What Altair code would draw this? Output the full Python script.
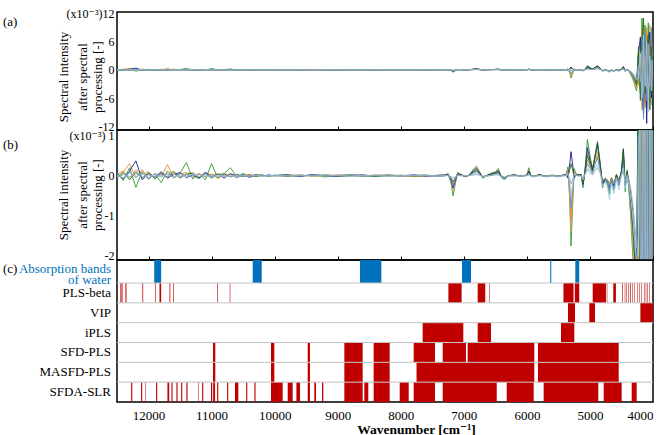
import altair as alt
import pandas as pd

FONT = "Liberation Serif, DejaVu Serif, Times New Roman, serif"

# ---------------- spectra: wavenumber grid (cm^-1) ----------------
WN_A = [12500, 12400, 12300, 12200, 12100, 12000, 11900, 11800, 11700, 11600, 11500, 11400, 11300,
        11200, 11100, 11000, 10900, 10800, 10700, 10600, 10500, 10400, 10300, 10200, 10100, 10000]
WN_B = [9800, 9600, 9400, 9200, 9000, 8800, 8600, 8400, 8200, 8000, 7800, 7600, 7400]
WN_C = [7300, 7250, 7200, 7170, 7140, 7100, 7050, 7000, 6950, 6900, 6850, 6800, 6750, 6700, 6600,
        6500, 6450, 6400, 6350, 6300, 6200, 6100, 6000, 5970, 5940, 5900, 5800, 5700, 5600, 5500, 5420]
WN_D = [5380, 5350, 5320, 5300, 5280, 5250, 5220, 5180, 5140, 5110, 5080, 5040, 5000, 4960, 4920,
        4880, 4840, 4800, 4760, 4720, 4690, 4660, 4620, 4580, 4540, 4500, 4470, 4440, 4410, 4380,
        4350, 4320, 4290, 4260]
WN_E = [4230, 4200, 4175, 4150, 4125, 4100, 4075, 4050, 4025, 4000]
WN = WN_A + WN_B + WN_C + WN_D + WN_E

# spectral intensity after processing (x10^-3), one list per spectrum
S_GREEN = [
    0.08, -0.12, 0.20, -0.29, 0.10, -0.05, 0.04, -0.17, 0.12, -0.04, 0.06, 0.33, -0.08, 0.05, -0.10, 0.30, -0.06, 0.05, 0.20, -0.04, 0.06, -0.03, 0.03, 0.02, -0.02, 0.01,
    0.03, -0.01, 0.02, -0.03, 0.01, 0.03, -0.02, 0.01, 0.02, -0.01, 0.01, 0.02, -0.02,
    0.00, 0.06, -0.20, -0.50, -0.24, 0.08, 0.04, -0.01, -0.03, 0.05, 0.16, 0.24, 0.10, -0.06, 0.04, 0.10, 0.18, -0.06, -0.10, -0.01, 0.03, -0.02, 0.01, 0.20, 0.02, -0.03, 0.02, -0.03, 0.00, -0.03, 0.01,
    0.02, 0.22, -0.60, -1.75, -0.95, 0.18, 0.05, 0.02, 0.03, -0.30, 0.12, 0.90, 0.50, 0.18, 0.45, 0.75, 0.30, -0.30, -0.10, -0.22, -0.45, -0.12, -0.35, 0.00, -0.25, 0.15, 0.68, -0.40, 0.15, -0.40, -1.10, -2.00, -3.20, -4.5,
    5.0, -3.0, 11.0, -6.0, 9.5, -8.0, 10.0, -5.0, 7.0, -4.0]
S_TAN = [
    0.04, 0.12, -0.06, 0.15, 0.03, 0.10, -0.05, 0.07, 0.02, 0.12, -0.04, 0.05, 0.08, -0.03, 0.06, 0.02, 0.05, -0.04, 0.03, 0.02, -0.02, 0.03, 0.01, 0.00, 0.01, 0.00,
    0.01, 0.02, 0.00, 0.01, -0.01, 0.02, 0.01, 0.00, 0.02, 0.01, 0.00, -0.01, 0.01,
    0.01, 0.05, -0.16, -0.40, -0.20, 0.06, 0.03, 0.00, -0.02, 0.03, 0.13, 0.20, 0.09, -0.05, 0.03, 0.09, 0.14, -0.05, -0.08, 0.00, 0.02, -0.01, 0.02, 0.15, 0.01, -0.02, 0.03, -0.02, 0.01, -0.02, 0.02,
    0.02, 0.17, -0.48, -1.40, -0.78, 0.14, 0.04, 0.02, 0.03, -0.22, 0.09, 0.60, 0.36, 0.14, 0.38, 0.60, 0.24, -0.22, -0.08, -0.16, -0.34, -0.08, -0.26, 0.02, -0.18, 0.10, 0.48, -0.28, 0.10, -0.35, -1.00, -1.80, -2.80, -4.0,
    -3.0, 6.0, -8.5, 10.0, -7.0, 8.5, -6.0, 9.5, -7.5, 3.5]
S_ORANGE = [
    -0.03, 0.10, 0.30, -0.05, 0.15, -0.08, 0.06, -0.02, 0.28, -0.06, 0.04, 0.09, -0.05, 0.06, -0.03, 0.05, -0.07, 0.02, 0.04, -0.05, 0.02, 0.03, -0.02, 0.02, -0.01, 0.01,
    -0.01, 0.02, -0.02, 0.01, 0.02, -0.01, 0.00, 0.02, -0.01, 0.01, -0.02, 0.01, 0.00,
    0.01, 0.03, -0.08, -0.20, -0.10, 0.03, 0.02, 0.01, 0.00, 0.02, 0.08, 0.12, 0.05, -0.02, 0.02, 0.05, 0.08, -0.02, -0.05, 0.01, 0.00, 0.01, 0.00, 0.08, 0.00, -0.01, 0.02, -0.01, 0.02, -0.01, 0.02,
    0.03, 0.13, -0.38, -1.10, -0.60, 0.11, 0.04, 0.02, 0.02, -0.14, 0.06, 0.40, 0.24, 0.10, 0.30, 0.50, 0.20, -0.14, -0.05, -0.10, -0.20, -0.04, -0.18, 0.03, -0.10, 0.06, 0.35, -0.18, 0.06, -0.30, -0.90, -1.50, -2.40, -3.5,
    -2.0, -5.0, 8.5, 4.0, -8.0, 9.0, -7.5, 4.5, 6.5, -2.5]
S_NAVY = [
    0.05, -0.08, 0.12, 0.37, -0.10, 0.06, -0.04, 0.10, -0.06, 0.03, 0.08, -0.05, 0.02, -0.07, 0.09, -0.03, 0.04, -0.06, 0.05, -0.02, 0.03, -0.04, 0.02, -0.01, 0.02, 0.00,
    0.02, -0.02, 0.03, 0.00, -0.02, 0.01, 0.02, -0.01, 0.01, 0.00, 0.02, -0.01, 0.01,
    0.02, 0.04, -0.12, -0.30, -0.15, 0.05, 0.03, 0.00, -0.02, 0.04, 0.12, 0.18, 0.08, -0.04, 0.03, 0.08, 0.12, -0.04, -0.07, 0.00, 0.02, -0.01, 0.02, 0.12, 0.01, -0.02, 0.03, -0.02, 0.01, -0.02, 0.02,
    0.03, -0.06, 0.30, 0.60, 0.36, -0.06, 0.03, 0.02, 0.03, -0.22, 0.10, 0.70, 0.40, 0.15, 0.48, 0.80, 0.32, -0.22, -0.08, -0.15, -0.30, -0.08, -0.25, 0.02, -0.15, 0.10, 0.65, -0.25, 0.10, -0.15, -0.50, -0.90, -1.60, -2.80,
    3.5, 7.0, -4.0, -9.5, 6.0, -11.4, 5.0, 8.0, -6.0, 3.0]
S_STEEL = [
    0.03, -0.06, 0.09, -0.04, 0.07, -0.09, 0.05, -0.03, 0.06, -0.05, 0.07, -0.02, 0.04, -0.06, 0.05, -0.02, 0.04, -0.03, 0.03, -0.04, 0.01, -0.02, 0.02, -0.01, 0.01, 0.00,
    0.00, -0.01, 0.02, 0.00, -0.01, 0.01, -0.01, 0.01, 0.00, -0.01, 0.01, 0.00, -0.01,
    0.00, 0.03, -0.10, -0.25, -0.12, 0.04, 0.02, 0.00, -0.01, 0.02, 0.07, 0.10, 0.04, -0.03, 0.01, 0.04, 0.06, -0.04, -0.07, -0.01, 0.01, -0.01, 0.01, 0.06, 0.00, -0.02, 0.01, -0.02, 0.01, -0.01, 0.01,
    0.02, 0.10, -0.28, -0.80, -0.44, 0.08, 0.03, 0.00, 0.01, -0.12, 0.05, 0.30, 0.18, 0.06, 0.28, 0.45, 0.16, -0.16, -0.08, -0.18, -0.38, -0.12, -0.30, -0.05, -0.22, 0.05, 0.30, -0.22, 0.04, -0.28, -0.80, -1.30, -2.00, -3.0,
    2.5, -4.5, 7.0, -10.5, 8.0, -6.5, 3.5, -7.0, 9.0, -3.5]
S_DKGREEN = [
    -0.06, 0.08, -0.10, 0.10, -0.05, 0.07, -0.08, 0.05, -0.03, 0.09, -0.06, 0.04, 0.06, -0.05, 0.04, -0.06, 0.03, 0.05, -0.03, 0.04, -0.02, 0.02, -0.02, 0.01, 0.00, 0.01,
    -0.01, 0.01, 0.00, 0.02, -0.01, 0.00, 0.01, -0.02, 0.00, 0.01, -0.01, 0.00, 0.01,
    0.01, 0.02, -0.06, -0.15, -0.08, 0.03, 0.01, 0.00, -0.01, 0.03, 0.09, 0.14, 0.06, -0.03, 0.02, 0.06, 0.10, -0.03, -0.06, 0.00, 0.01, 0.00, 0.01, 0.10, 0.00, -0.01, 0.02, -0.01, 0.01, -0.01, 0.01,
    0.02, -0.03, 0.15, 0.30, 0.18, -0.03, 0.02, 0.01, 0.02, -0.18, 0.08, 0.50, 0.30, 0.12, 0.50, 0.85, 0.34, -0.18, -0.06, -0.12, -0.25, -0.06, -0.20, 0.03, -0.12, 0.12, 0.60, -0.20, 0.08, -0.20, -0.70, -1.30, -2.10, -3.2,
    4.0, -6.5, 6.0, 11.0, -5.0, 4.0, 7.5, -8.5, 5.0, -3.0]
S_LIGHTBLUE = [
    0.02, -0.05, 0.06, -0.03, 0.05, -0.04, 0.03, -0.02, 0.04, -0.05, 0.02, -0.03, 0.04, -0.02, 0.03, -0.04, 0.02, -0.03, 0.01, -0.02, 0.02, -0.01, 0.01, -0.02, 0.01, 0.00,
    0.00, 0.01, -0.01, 0.02, 0.00, -0.01, 0.01, 0.00, -0.01, 0.01, 0.00, 0.01, -0.01,
    0.00, 0.01, -0.04, -0.10, -0.05, 0.02, 0.00, 0.01, -0.01, 0.01, 0.04, 0.06, 0.02, -0.03, 0.00, 0.03, 0.04, -0.05, -0.09, -0.02, 0.00, -0.01, 0.01, 0.04, -0.01, -0.02, 0.01, -0.02, 0.00, -0.02, 0.00,
    0.01, 0.06, -0.18, -0.50, -0.28, 0.05, 0.02, -0.02, 0.00, -0.10, 0.03, 0.20, 0.10, 0.02, 0.18, 0.30, 0.10, -0.25, -0.15, -0.30, -0.60, -0.20, -0.45, -0.10, -0.35, 0.00, 0.20, -0.30, 0.00, -0.25, -0.60, -1.00, -1.60, -2.2,
    -1.5, 3.5, -6.0, 7.5, -3.5, 6.0, -9.0, 3.0, -4.5, 2.0]
S_GRAY = [
    -0.04, 0.03, -0.02, 0.05, -0.03, 0.02, -0.04, 0.03, -0.02, 0.04, -0.03, 0.02, -0.01, 0.03, -0.02, 0.02, -0.03, 0.01, -0.02, 0.02, -0.01, 0.01, 0.00, 0.01, -0.01, 0.00,
    0.01, 0.00, 0.01, -0.01, 0.01, 0.00, -0.01, 0.01, 0.00, -0.01, 0.01, 0.00, 0.00,
    0.00, 0.01, -0.02, -0.05, -0.03, 0.01, 0.00, 0.00, 0.00, 0.01, 0.02, 0.03, 0.01, -0.01, 0.00, 0.02, 0.02, -0.02, -0.03, 0.00, 0.00, 0.00, 0.00, 0.02, 0.00, -0.01, 0.00, -0.01, 0.00, -0.01, 0.00,
    0.00, 0.03, -0.08, -0.20, -0.12, 0.02, 0.01, 0.00, 0.00, -0.06, 0.02, 0.15, 0.08, 0.02, 0.12, 0.20, 0.08, -0.12, -0.06, -0.12, -0.25, -0.08, -0.20, -0.03, -0.15, 0.02, 0.12, -0.12, 0.02, -0.12, -0.35, -0.70, -1.20, -1.8,
    1.0, -2.5, 4.0, -5.0, 3.0, -4.0, 5.5, -3.5, 2.0, -1.0]

SPECTRA = [("s1", S_GREEN, "#2f9a2f"), ("s2", S_TAN, "#c9a05a"), ("s3", S_ORANGE, "#ec8a2e"),
           ("s4", S_NAVY, "#1c1c8e"), ("s5", S_STEEL, "#5b8fc9"), ("s6", S_DKGREEN, "#1f6f1f"),
           ("s7", S_LIGHTBLUE, "#a3c8ec"), ("s8", S_GRAY, "#93a6bb")]

# ---------------- selected wavenumber regions ----------------
ROWS = ["water", "PLS-beta", "VIP", "iPLS", "SFD-PLS", "MASFD-PLS", "SFDA-SLR"]
WATER = [(11800, 11910), (10205, 10348), (8308, 8647), (6886, 7029), (5613, 5630), (5170, 5232)]
PLS_BETA = [(12428, 12446), (12405, 12413), (12350, 12366), (12085, 12097), (11888, 11898), (11800, 11826),
            (11655, 11667), (11596, 11606), (10898, 10908), (10703, 10712), (7035, 7245), (6660, 6780),
            (6592, 6600), (5260, 5420), (5170, 5240), (4746, 4956), (4725, 4733), (4588, 4630),
            (4476, 4486), (4440, 4448), (4413, 4421), (4381, 4389), (4354, 4366), (4318, 4326),
            (4293, 4301), (4239, 4247), (4213, 4221), (4175, 4183), (4134, 4142), (4107, 4115),
            (4080, 4088), (4055, 4063)]
VIP = [(5237, 5348), (4920, 5010), (4000, 4200)]
IPLS = [(7008, 7653), (6569, 6780), (5248, 5459)]
SFD_PLS = [(10941, 10978), (10005, 10058), (9440, 9476), (8604, 8895), (8176, 8430), (7457, 7795),
           (6966, 7335), (5882, 6939), (4544, 5824)]
MASFD_PLS = [(10941, 10978), (10005, 10058), (9440, 9476), (8604, 8895), (8176, 8430), (5882, 7750),
             (4544, 5824)]
SFDA_SLR = [(12258, 12276), (12100, 12118), (12041, 12049), (11862, 11880), (11672, 11700), (11619, 11637),
            (11540, 11558), (11465, 11483), (11381, 11399), (11207, 11215), (11132, 11150), (10990, 11010),
            (10945, 10975), (10894, 10912), (10736, 10754), (10576, 10629), (10434, 10452), (10303, 10321),
            (9873, 10058), (9714, 9793), (9598, 9655), (9440, 9476), (9344, 9371), (9228, 9249),
            (8604, 8895), (8515, 8578), (8176, 8430), (7874, 8017), (7457, 7795), (6478, 7335),
            (5892, 6320), (4867, 5734), (4497, 4782), (4259, 4338)]

X_TICKS = [12000, 11000, 10000, 9000, 8000, 7000, 6000, 5000, 4000]
YA_TICKS = [12, 6, 0, -6, -12]
YB_TICKS = [1, 0, -1, -2]

# ---------------- tables ----------------
spec_rows = []
for name, vals, _ in SPECTRA:
    if len(vals) != len(WN):
        raise ValueError(f"{name}: {len(vals)} values vs {len(WN)} wavenumbers")
    for w, v in zip(WN, vals):
        spec_rows.append({"wn": w, "v": v, "s": name})
spec_df = pd.DataFrame(spec_rows)

sel_rows = []
for i, (row, lst) in enumerate(zip(ROWS, [WATER, PLS_BETA, VIP, IPLS, SFD_PLS, MASFD_PLS, SFDA_SLR])):
    for a, b in lst:
        sel_rows.append({"row": row, "i": i, "start": a, "end": b})
sel_df = pd.DataFrame(sel_rows)
water_df = sel_df[sel_df["row"] == "water"]
method_df = sel_df[sel_df["row"] != "water"]
rows_df = pd.DataFrame({"row": ROWS, "i": list(range(len(ROWS)))})

W, HA, HB, HC = 536, 118, 130, 142
xscale = alt.Scale(domain=[4000, 12500], reverse=True, nice=False, zero=False)
cscale = alt.Scale(domain=[s[0] for s in SPECTRA], range=[s[2] for s in SPECTRA])
# first (water) row slightly taller than the six method rows
row_y = alt.Scale(domain=[0, 1, 7], range=[0, 23, HC], nice=False, zero=False)


def text_layer(text, x, y, size=13, angle=None, align="center", baseline="middle", color="black"):
    kw = dict(font=FONT, fontSize=size, align=align, baseline=baseline, color=color)
    if angle is not None:
        kw["angle"] = angle
    return alt.Chart(pd.DataFrame({"t": [text]})).mark_text(**kw).encode(
        x=alt.value(x), y=alt.value(y), text="t:N")


def spectra(domain, ticks, label_expr, xaxis):
    return alt.Chart(spec_df).mark_line(strokeWidth=0.9, clip=True).encode(
        x=alt.X("wn:Q", scale=xscale, axis=xaxis),
        y=alt.Y("v:Q", scale=alt.Scale(domain=domain, nice=False, zero=False),
                axis=alt.Axis(values=ticks, labelExpr=label_expr, title=None, domain=False, ticks=False,
                              grid=False, labelPadding=3, labelFontSize=12)),
        color=alt.Color("s:N", scale=cscale, legend=None),
    )


def ytitle(h_center):
    return [text_layer("Spectral intensity", -53, h_center, angle=270),
            text_layer("after spectral", -34, h_center, angle=270),
            text_layer("processing [-]", -19, h_center, angle=270)]


neg = "(datum.value < 0 ? '-' + toString(-datum.value) : toString(datum.value))"
panel_a = alt.layer(
    spectra([-12.8, 12.3], YA_TICKS, "datum.value == 12 ? '(x10⁻³)12' : " + neg, None),
    text_layer("(a)", -114, 10, align="left"),
    *ytitle(65),
).properties(width=W, height=HA)

panel_b = alt.layer(
    spectra([-2.1, 1.14], YB_TICKS, "datum.value == 1 ? '(x10⁻³) 1' : " + neg,
            alt.Axis(orient="top", values=X_TICKS, labels=False, ticks=True, tickSize=4, domain=False,
                     grid=False, title=None)),
    text_layer("(b)", -114, 15, align="left"),
    *ytitle(65),
).properties(width=W, height=HB)

water_bars = alt.Chart(water_df).transform_calculate(i2="datum.i + 1").mark_rect(color="#0072BD").encode(
    x=alt.X("start:Q", scale=xscale,
            axis=alt.Axis(values=X_TICKS, format="d", title="Wavenumber [cm⁻¹]", domain=False, ticks=False,
                          grid=False, labelFontSize=13, labelPadding=7, titleFontSize=13.5,
                          titleFontWeight="bold", titleX=299, titleY=31, titleBaseline="alphabetic")),
    x2="end:Q",
    y=alt.Y("i:Q", scale=row_y, axis=None),
    y2="i2:Q",
)
method_bars = alt.Chart(method_df).transform_calculate(i2="datum.i + 1").mark_rect(color="#C00000").encode(
    x=alt.X("start:Q", scale=xscale, axis=None),
    x2="end:Q",
    y=alt.Y("i:Q", scale=row_y, axis=None),
    y2="i2:Q",
)
seps = alt.Chart(rows_df[rows_df["i"] > 0]).mark_rule(color="#c2c2c2", strokeWidth=1).encode(
    y=alt.Y("i:Q", scale=row_y, axis=None))
rowlab = alt.Chart(rows_df[rows_df["i"] > 0]).transform_calculate(ic="datum.i + 0.5").mark_text(
    font=FONT, fontSize=13, align="right", baseline="middle").encode(
    x=alt.value(-6), y=alt.Y("ic:Q", scale=row_y, axis=None), text="row:N")
topticks = alt.Chart(pd.DataFrame({"wn": X_TICKS})).mark_point(opacity=0).encode(
    x=alt.X("wn:Q", scale=xscale,
            axis=alt.Axis(orient="top", values=X_TICKS, labels=False, ticks=True, tickSize=4,
                          domain=False, grid=False, title=None)))

panel_c = alt.layer(
    water_bars, method_bars, seps, rowlab, topticks,
    text_layer("Absorption bands", -6, 8.5, size=13, align="right", color="#0072BD"),
    text_layer("of water", -6, 19.5, size=13, align="right", color="#0072BD"),
    text_layer("(c)", -114, 8.5, align="left"),
).resolve_axis(x="independent").properties(width=W, height=HC)

chart = alt.vconcat(panel_a, panel_b, panel_c, spacing=0, bounds="flush").properties(
    padding={"left": 2, "top": 6, "right": 4, "bottom": 2}
).resolve_scale(color="independent").configure_view(stroke="black", strokeWidth=1.5).configure_axis(
    labelFont=FONT, titleFont=FONT, labelColor="black", titleColor="black", tickColor="black"
).configure_text(font=FONT)

chart.save("out.html", embed_options={"renderer": "svg", "actions": False})
